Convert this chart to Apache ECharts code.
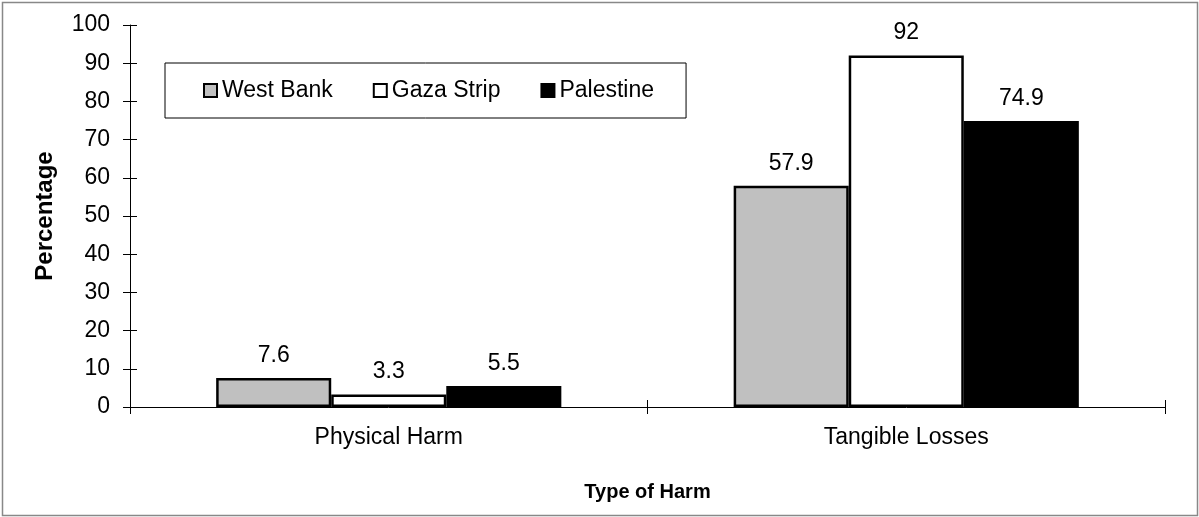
<!DOCTYPE html>
<html>
<head>
<meta charset="utf-8">
<script src="https://cdn.jsdelivr.net/npm/echarts@6/dist/echarts.min.js"></script>
<style>
html,body{margin:0;padding:0;background:#fff;}
#c{width:1199px;height:517px;}
</style>
</head>
<body>
<div id="c"></div>
<script>
const categories = ['Physical Harm', 'Tangible Losses'];
const westBank = [7.6, 57.9];
const gazaStrip = [3.3, 92];
const palestine = [5.5, 74.9];
const seriesNames = ['West Bank', 'Gaza Strip', 'Palestine'];
const yTicks = [0, 10, 20, 30, 40, 50, 60, 70, 80, 90, 100];

const FONT = '"Liberation Sans", Arial, sans-serif';
const chart = echarts.init(document.getElementById('c'), null, {renderer: 'canvas'});

function barSeries(name, data, color) {
  return {
    name: name,
    type: 'bar',
    data: data,
    xAxisIndex: 0,
    yAxisIndex: 0,
    barGap: '0%',
    barCategoryGap: '33.3%',
    itemStyle: {color: color, borderColor: '#000', borderWidth: 2.5},
    label: {
      show: true,
      position: 'top',
      distance: 11,
      color: '#000',
      fontFamily: FONT,
      fontSize: 23,
      formatter: function (p) { return String(p.value); }
    },
    emphasis: {disabled: true}
  };
}

const option = {
  animation: false,
  backgroundColor: '#fff',
  textStyle: {fontFamily: FONT},
  grid: {left: 130, right: 34, top: 25, bottom: 110, containLabel: false},
  legend: {
    data: seriesNames,
    left: 165,
    top: 63,
    orient: 'horizontal',
    icon: 'rect',
    itemWidth: 13,
    itemHeight: 13,
    itemGap: 40,
    padding: [16, 32, 16, 38],
    borderColor: '#000',
    borderWidth: 1,
    backgroundColor: '#fff',
    selectedMode: false,
    itemStyle: {borderColor: '#000', borderWidth: 2},
    textStyle: {fontFamily: FONT, fontSize: 23, color: '#000', lineHeight: 23}
  },
  xAxis: [{
    type: 'category',
    data: categories,
    name: 'Type of Harm',
    nameLocation: 'middle',
    nameGap: 75,
    nameTextStyle: {fontFamily: FONT, fontSize: 20, fontWeight: 'bold', color: '#000'},
    axisLine: {show: true, lineStyle: {color: '#000', width: 1}},
    axisTick: {show: true, inside: false, length: 7, alignWithLabel: false, lineStyle: {color: '#000'}},
    axisLabel: {fontFamily: FONT, fontSize: 23, color: '#000', margin: 19},
    splitLine: {show: false}
  }, {
    type: 'category',
    data: categories,
    position: 'bottom',
    offset: 0,
    axisLine: {show: false},
    axisTick: {show: true, inside: true, length: 7, lineStyle: {color: '#000'}},
    axisLabel: {show: false},
    splitLine: {show: false}
  }],
  yAxis: [{
    type: 'value',
    min: 0,
    max: 100,
    interval: 10,
    name: 'Percentage',
    nameLocation: 'middle',
    nameGap: 73,
    nameTextStyle: {fontFamily: FONT, fontSize: 24, fontWeight: 'bold', color: '#000'},
    axisLine: {show: true, lineStyle: {color: '#000', width: 1}},
    axisTick: {show: true, inside: false, length: 7, lineStyle: {color: '#000'}},
    axisLabel: {fontFamily: FONT, fontSize: 23, color: '#000', margin: 20,
      formatter: function (v) { return yTicks.indexOf(v) >= 0 ? String(v) : ''; }},
    splitLine: {show: false}
  }, {
    type: 'value',
    min: 0,
    max: 100,
    interval: 10,
    position: 'left',
    offset: 0,
    axisLine: {show: false},
    axisTick: {show: true, inside: true, length: 7, lineStyle: {color: '#000'}},
    axisLabel: {show: false},
    splitLine: {show: false}
  }],
  series: [
    barSeries(seriesNames[0], westBank, '#c0c0c0'),
    barSeries(seriesNames[1], gazaStrip, '#ffffff'),
    barSeries(seriesNames[2], palestine, '#000000')
  ],
  graphic: [{
    type: 'rect',
    silent: true,
    z: 100,
    shape: {x: 2.5, y: 2.5, width: 1195, height: 513},
    style: {fill: 'none', stroke: '#888', lineWidth: 1.5}
  }]
};
chart.setOption(option);
</script>
</body>
</html>
